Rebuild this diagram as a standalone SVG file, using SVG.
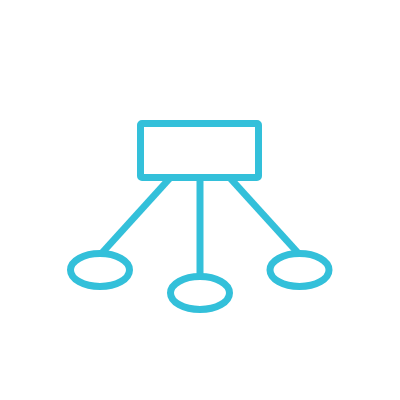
<svg xmlns="http://www.w3.org/2000/svg" width="400" height="400" viewBox="0 0 400 400">
<style>
.s{fill:none;stroke:#33c0da;stroke-width:7;stroke-linecap:butt;stroke-linejoin:round}
</style>
<rect width="400" height="400" fill="#ffffff"/>
<g id="connectors">
<line class="s" x1="170" y1="178" x2="101" y2="254"/>
<line class="s" x1="200" y1="178" x2="200" y2="277"/>
<line class="s" x1="230" y1="178" x2="299" y2="254"/>
</g>
<g id="root"><rect class="s" x="140.5" y="123.5" width="118" height="54" rx="1.5"/></g>
<g id="leaf-left"><ellipse class="s" cx="100" cy="270" rx="29.5" ry="16.5"/></g>
<g id="leaf-middle"><ellipse class="s" cx="200" cy="293" rx="29.5" ry="16.5"/></g>
<g id="leaf-right"><ellipse class="s" cx="299.5" cy="270" rx="29.5" ry="16.5"/></g>
</svg>
